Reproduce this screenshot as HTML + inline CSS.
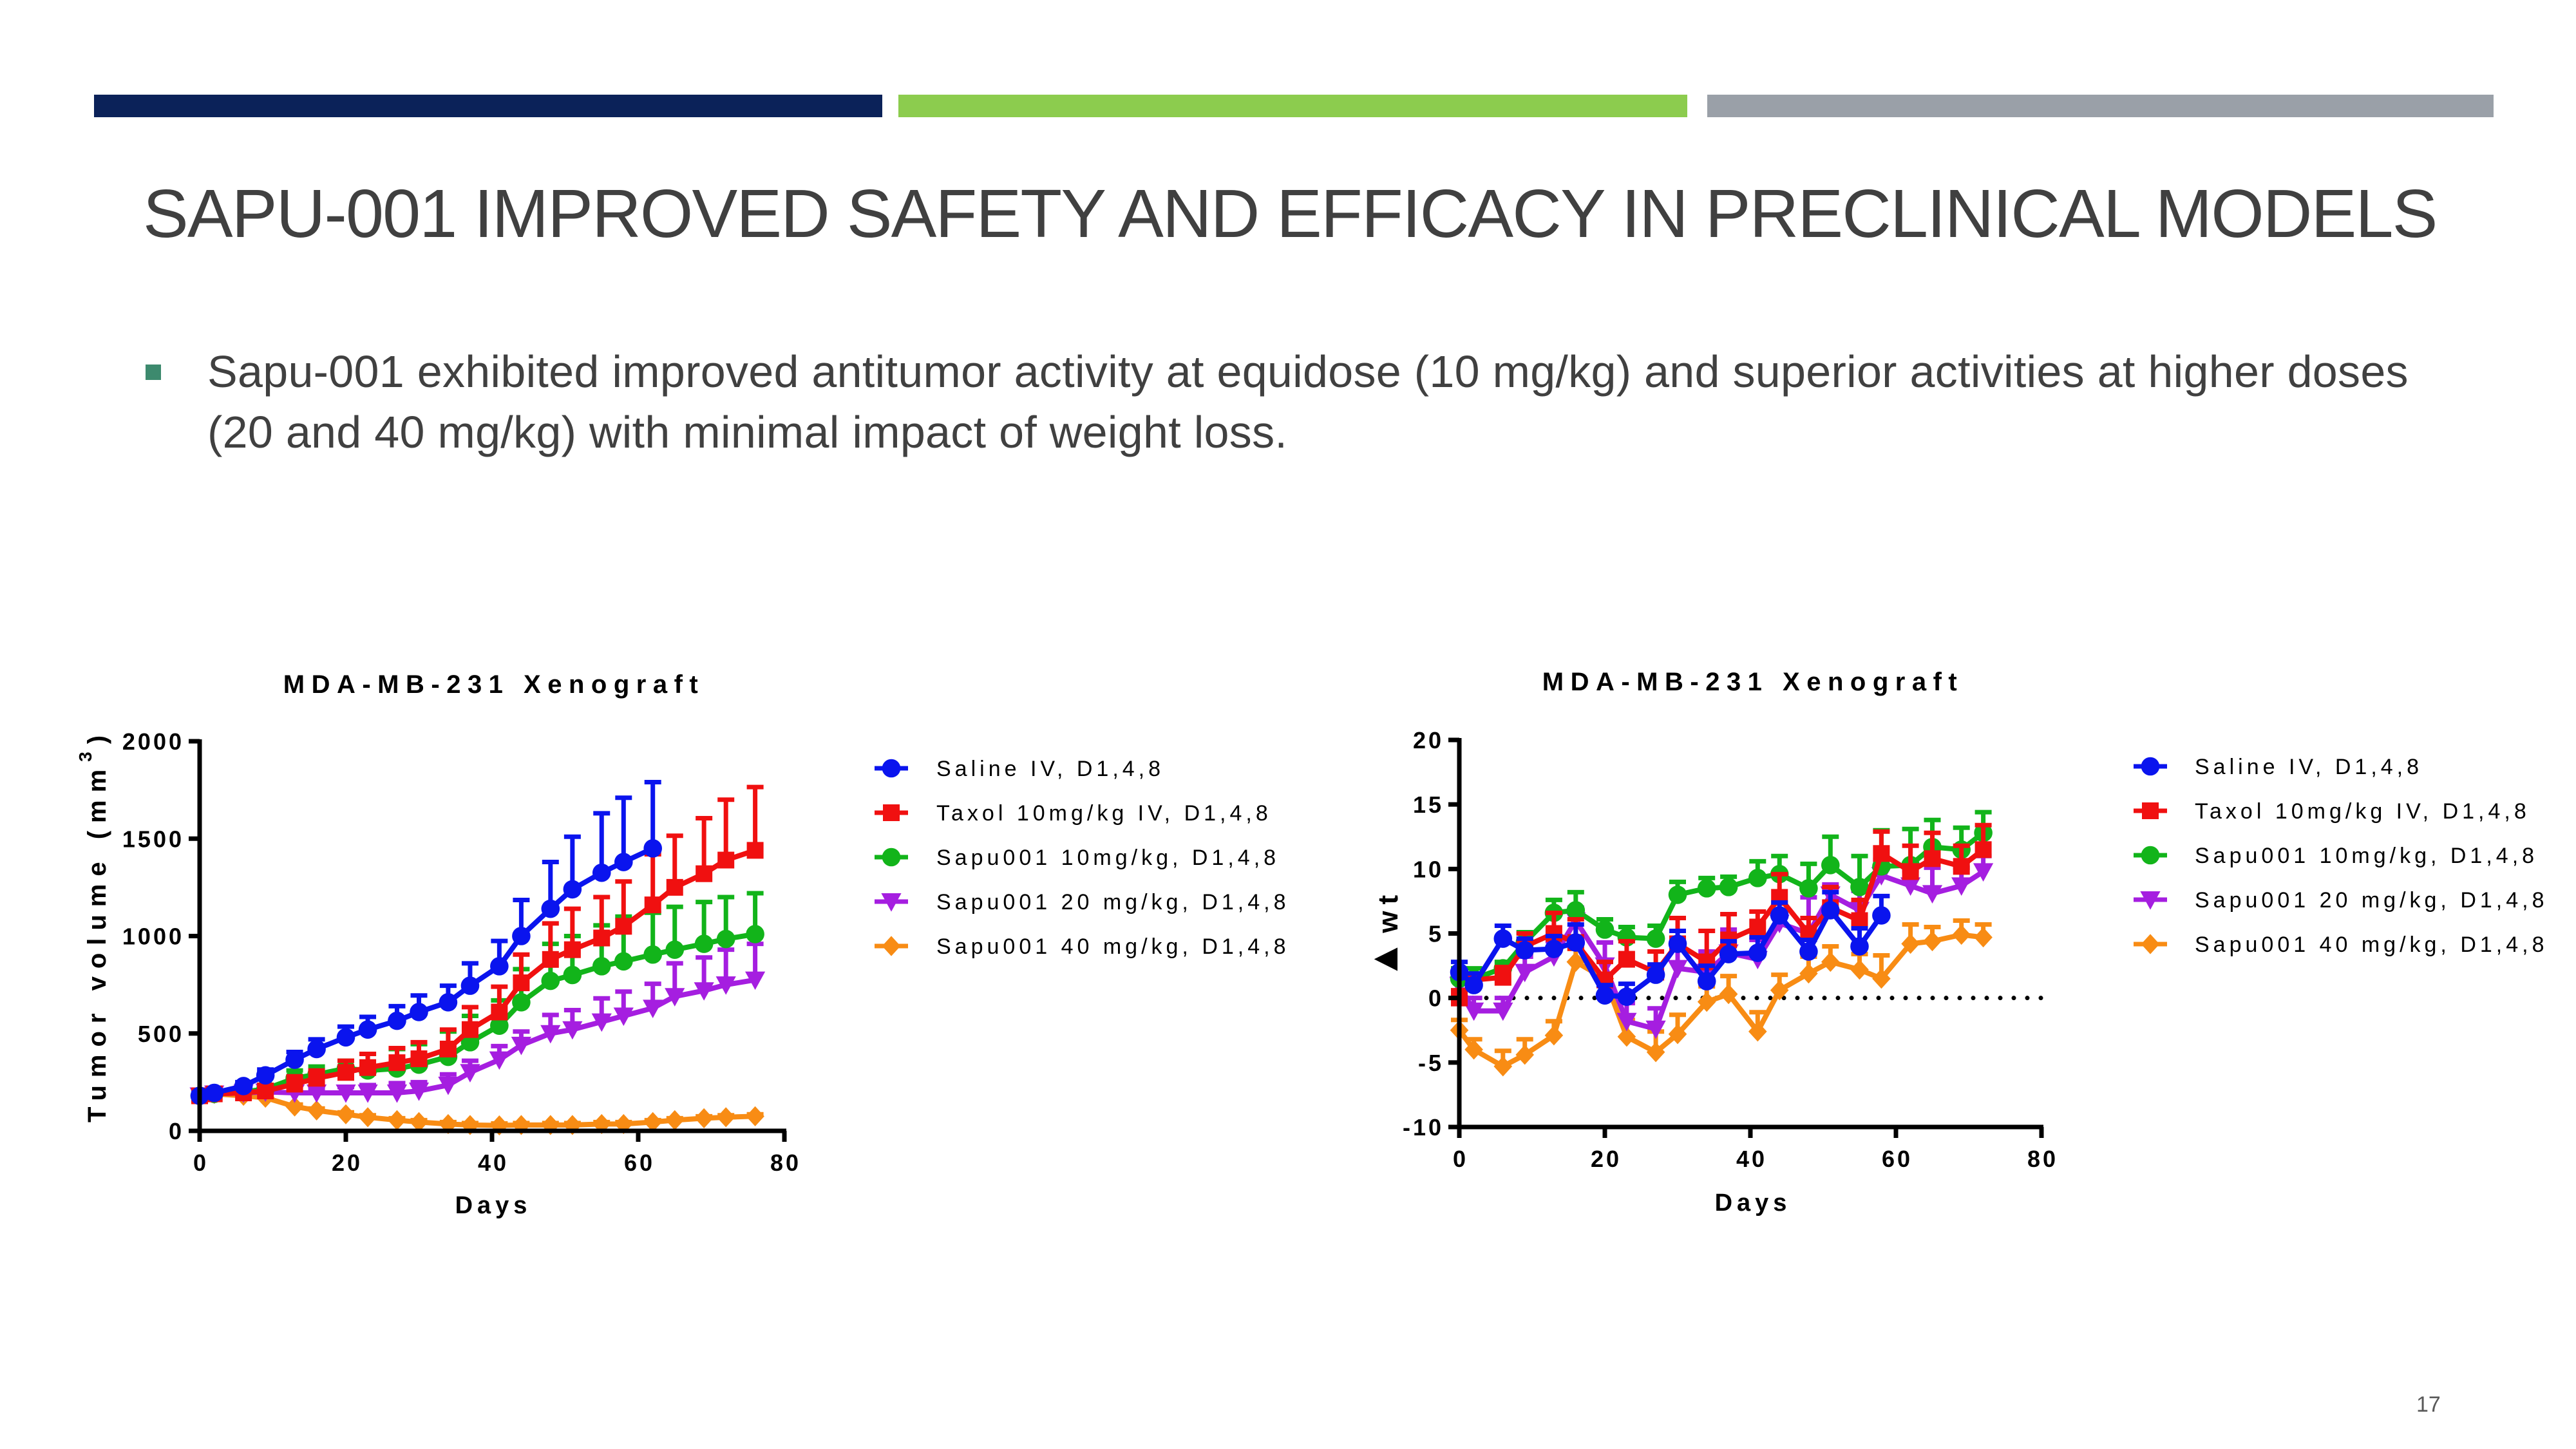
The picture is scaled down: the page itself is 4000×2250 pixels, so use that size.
<!DOCTYPE html>
<html><head><meta charset="utf-8">
<style>
html,body{margin:0;padding:0;background:#fff;}
body{width:4000px;height:2250px;overflow:hidden;position:relative;font-family:"Liberation Sans",sans-serif;}
.bar{position:absolute;top:147px;height:35px;}
#title{position:absolute;left:222px;top:272px;font-size:106px;color:#404040;white-space:nowrap;letter-spacing:-1.8px;}
#bullet{position:absolute;left:226px;top:566px;width:24px;height:24px;background:#3d8a6e;}
#btext{position:absolute;left:322px;top:530px;font-size:70px;line-height:94px;color:#404040;width:3600px;letter-spacing:0.3px;}
#pnum{position:absolute;left:3752px;top:2162px;font-size:34px;color:#595959;}
svg{position:absolute;left:0;top:0;}
</style></head><body>
<div class="bar" style="left:146px;width:1224px;background:#0b2259"></div>
<div class="bar" style="left:1395px;width:1225px;background:#8ccc4e"></div>
<div class="bar" style="left:2651px;width:1221px;background:#9aa0a8"></div>
<div id="title">SAPU-001 IMPROVED SAFETY AND EFFICACY IN PRECLINICAL MODELS</div>
<div id="bullet"></div>
<div id="btext">Sapu-001 exhibited improved antitumor activity at equidose (10 mg/kg) and superior activities at higher doses<br>(20 and 40 mg/kg) with minimal impact of weight loss.</div>
<div id="pnum">17</div>
<svg id="chart" width="4000" height="2250" xmlns="http://www.w3.org/2000/svg"></svg>
<script>
const names = ["Saline IV, D1,4,8","Taxol 10mg/kg IV, D1,4,8","Sapu001 10mg/kg, D1,4,8","Sapu001 20 mg/kg, D1,4,8","Sapu001 40 mg/kg, D1,4,8"];
const colors = ["#0a14ee","#f01010","#12b41a","#a51ee0","#f88c14"];
const shapes = ["circle","square","circle","tri","diamond"];
// Left chart: tumor volume
const daysL = [0,2,6,9,13,16,20,23,27,30,34,37,41,44,48,51,55,58,62,65,69,72,76];
const tvSaline = [180,195,230,285,365,420,480,520,565,610,660,745,845,1000,1140,1240,1325,1380,1450];
const tvTaxol = [180,190,195,205,240,270,300,325,350,370,420,520,610,760,880,930,990,1050,1160,1250,1320,1390,1440];
const tvSapu10 = [180,190,200,215,270,290,320,310,320,340,380,455,540,660,770,800,845,870,905,930,960,985,1010];
const tvSapu20 = [180,190,195,200,195,195,195,195,195,205,235,300,365,440,500,520,560,590,630,690,720,750,775];
const tvSapu40 = [180,190,180,170,125,105,85,70,55,45,35,30,28,30,30,30,35,35,45,55,65,70,75];
const errSaline = [15,15,20,30,40,50,55,65,75,85,85,115,130,185,240,270,305,330,340];
const errTaxol = [10,10,15,20,40,40,60,70,75,85,100,115,130,145,185,210,210,230,260,265,285,310,325];
const errSapu10 = [10,10,15,20,40,40,40,85,100,105,130,135,130,170,190,200,210,230,215,220,215,215,210];
const errSapu20 = [10,10,10,10,15,20,30,40,50,45,55,60,70,70,95,100,120,125,125,170,170,180,185];
const errSapu40 = [10,10,10,10,10,10,10,10,10,10,10,10,10,10,10,10,10,10,10,10,10,10,10];
const ticksLX = [0,20,40,60,80];
const ticksLY = [0,500,1000,1500,2000];
// Right chart: body weight change
const daysR = [0,2,6,9,13,16,20,23,27,30,34,37,41,44,48,51,55,58,62,65,69,72];
const wtSaline = [2.0,1.0,4.6,3.7,3.8,4.3,0.2,0.1,1.8,4.2,1.3,3.4,3.5,6.4,3.6,6.8,4.0,6.4];
const wtTaxol = [0,1.4,1.6,4.0,5.0,4.3,1.4,3.0,2.0,4.2,2.8,4.5,5.5,7.8,5.0,7.0,6.0,11.2,9.8,10.8,10.2,11.5];
const wtSapu10 = [1.5,1.5,2.3,4.3,6.6,6.8,5.3,4.7,4.6,8.0,8.5,8.6,9.3,9.6,8.5,10.3,8.6,10.2,10.3,11.7,11.5,12.8];
const wtSapu20 = [1.0,-1.0,-1.0,2.0,3.2,6.0,2.5,-1.8,-2.4,2.3,2.0,3.5,3.0,5.8,5.0,8.0,6.8,9.5,8.7,8.1,8.7,9.8];
const wtSapu40 = [-2.5,-4.0,-5.3,-4.4,-2.9,2.8,1.5,-3.0,-4.2,-2.8,-0.3,0.3,-2.6,0.6,1.9,2.8,2.2,1.5,4.2,4.4,4.9,4.7];
const ewSaline = [0.8,0.9,1.0,0.9,1.0,1.4,0.8,1.0,0.8,1.0,1.2,1.0,1.2,1.0,0.9,1.4,1.4,1.5];
const ewTaxol = [0.6,0.4,0.8,1.0,1.6,1.8,1.4,1.4,1.6,2.0,2.4,2.0,1.2,1.8,1.2,1.6,1.6,1.7,2.0,2.0,1.6,1.9];
const ewSapu10 = [0.8,0.8,0.5,0.8,1.0,1.4,0.8,0.8,1.0,1.0,0.8,0.8,1.3,1.4,1.9,2.2,2.4,2.8,2.8,2.1,1.7,1.6];
const ewSapu20 = [0.8,1.0,1.0,1.2,1.2,1.0,1.8,1.4,1.6,1.5,1.6,1.8,1.5,0.8,2.8,0.8,1.5,1.2,1.2,2.0,1.4,1.2];
const ewSapu40 = [0.8,0.8,1.2,1.2,1.1,1.0,1.3,1.3,1.6,1.5,1.2,1.4,1.5,1.2,1.3,1.2,1.2,1.8,1.5,1.1,1.1,1.0];
const ticksRX = [0,20,40,60,80];
const ticksRY = [-10,-5,0,5,10,15,20];

const NS = "http://www.w3.org/2000/svg";
const svg = document.getElementById("chart");
function mk(tag, attrs, parent){
  const e = document.createElementNS(NS, tag);
  for (const k in attrs) e.setAttribute(k, attrs[k]);
  (parent||svg).appendChild(e);
  return e;
}
function marker(g, shape, x, y, c, s){
  let e;
  if (shape==="circle") e = mk("circle",{cx:x,cy:y,r:s*0.55,fill:c},g);
  else if (shape==="square") e = mk("rect",{x:x-s*0.5,y:y-s*0.5,width:s,height:s,fill:c},g);
  else if (shape==="tri") e = mk("polygon",{points:`${x-s*0.6},${y-s*0.5} ${x+s*0.6},${y-s*0.5} ${x},${y+s*0.6}`,fill:c},g);
  else e = mk("polygon",{points:`${x},${y-s*0.6} ${x+s*0.55},${y} ${x},${y+s*0.6} ${x-s*0.55},${y}`,fill:c},g);
  return e;
}
function text(str, x, y, size, opts){
  const t = mk("text", Object.assign({x:x,y:y,"font-size":size,"font-family":"Liberation Sans, sans-serif",fill:"#000"}, opts||{}));
  t.textContent = str;
  return t;
}

function drawChart(cfg){
  const {x0,x1,y0,y1,xmin,xmax,ymin,ymax,days,series,errs,ticksX,ticksY,prefix} = cfg;
  const sx = d => x0 + (d - xmin) * (x1 - x0) / (xmax - xmin);
  const sy = v => y0 - (v - ymin) * (y0 - y1) / (ymax - ymin);
  const g = mk("g",{});
  
  
  if (cfg.zeroLine){
    const z = mk("line",{x1:x0,y1:sy(0),x2:cfg.zeroEnd,y2:sy(0),stroke:"#000","stroke-width":7,"stroke-dasharray":"0 21","stroke-linecap":"round"},g);
    
    
  }
  for (let si = series.length - 1; si >= 0; si--){
    const vals = series[si], er = errs[si], c = colors[si];
    const sg = mk("g",{},g);
    
    
    vals.forEach((v,i)=>{
      const x = sx(days[i]), y = sy(v), yt = sy(v + er[i]);
      mk("line",{x1:x,y1:y,x2:x,y2:yt,stroke:c,"stroke-width":7},sg);
      mk("line",{x1:x-13,y1:yt,x2:x+13,y2:yt,stroke:c,"stroke-width":7},sg);
    });
    const pts = vals.map((v,i)=>sx(days[i])+","+sy(v)).join(" ");
    const pl = mk("polyline",{points:pts,fill:"none",stroke:c,"stroke-width":8,"stroke-linejoin":"round"},sg);
    
    
    vals.forEach((v,i)=>{
      const m = marker(sg, shapes[si], sx(days[i]), sy(v), c, 26);
      
      
    });
  }
  const ax = mk("g",{});
  
  
  mk("line",{x1:x0,y1:y1-3,x2:x0,y2:y0+3,stroke:"#000","stroke-width":7},ax);
  mk("line",{x1:x0-3,y1:y0,x2:x1+3,y2:y0,stroke:"#000","stroke-width":7},ax);
  ticksX.forEach(t=>{
    mk("line",{x1:sx(t),y1:y0,x2:sx(t),y2:y0+17,stroke:"#000","stroke-width":7},ax);
    const tl = text(String(t), sx(t)+2, y0+62, 36, {"font-weight":"bold","text-anchor":"middle","letter-spacing":"4"});
    
    
  });
  ticksY.forEach(t=>{
    mk("line",{x1:x0-17,y1:sy(t),x2:x0,y2:sy(t),stroke:"#000","stroke-width":7},ax);
    const tl = text(String(t), x0-24, sy(t)+13, 36, {"font-weight":"bold","text-anchor":"end","letter-spacing":"4"});
    
    
  });
}

drawChart({x0:310,x1:1218,y0:1756,y1:1151,xmin:0,xmax:80,ymin:0,ymax:2000,days:daysL,
  series:[tvSaline,tvTaxol,tvSapu10,tvSapu20,tvSapu40],errs:[errSaline,errTaxol,errSapu10,errSapu20,errSapu40],
  ticksX:ticksLX,ticksY:ticksLY,prefix:"tumor-chart"});
drawChart({x0:2266,x1:3170,y0:1750,y1:1149,xmin:0,xmax:80,ymin:-10,ymax:20,days:daysR,
  series:[wtSaline,wtTaxol,wtSapu10,wtSapu20,wtSapu40],errs:[ewSaline,ewTaxol,ewSapu10,ewSapu20,ewSapu40],
  ticksX:ticksRX,ticksY:ticksRY,prefix:"weight-chart",zeroLine:true,zeroEnd:3180});

// titles and axis labels
let t;
t = text("MDA-MB-231 Xenograft", 767, 1076, 40, {"font-weight":"bold","text-anchor":"middle","letter-spacing":"10.5"});
 
t = text("MDA-MB-231 Xenograft", 2722, 1072, 40, {"font-weight":"bold","text-anchor":"middle","letter-spacing":"10.5"});
 
t = text("Days", 766, 1884, 38, {"font-weight":"bold","text-anchor":"middle","letter-spacing":"7"});
 
t = text("Days", 2722, 1880, 38, {"font-weight":"bold","text-anchor":"middle","letter-spacing":"7"});
 
t = mk("text",{x:0,y:0,"font-size":40,"font-weight":"bold","font-family":"Liberation Sans, sans-serif","letter-spacing":"12",fill:"#000","transform":"translate(164,1743) rotate(-90)"});
 
t.appendChild(document.createTextNode("Tumor volume (mm"));
const sup = mk("tspan",{dy:-22,"font-size":28},t); sup.textContent = "3";
const cp = mk("tspan",{dy:22},t); cp.textContent = ")";
t = mk("text",{x:0,y:0,"font-size":44,"font-weight":"bold","font-family":"Liberation Sans, sans-serif","letter-spacing":"10",fill:"#000","text-anchor":"middle","transform":"translate(2170,1450) rotate(-90)"});
 
const tri = mk("tspan",{"font-size":62},t); tri.textContent = "\u25B2";
const wt = mk("tspan",{},t); wt.textContent = "wt";

// legends
function legend(lx, tx, ys, prefix){
  names.forEach((n,i)=>{
    const g = mk("g",{});
    
    
    mk("line",{x1:lx,y1:ys[i],x2:lx+52,y2:ys[i],stroke:colors[i],"stroke-width":7},g);
    marker(g, shapes[i], lx+26, ys[i], colors[i], 26);
    const tt = mk("text",{x:tx,y:ys[i]+12,"font-size":34,"font-family":"Liberation Sans, sans-serif","letter-spacing":"6",fill:"#000"},g);
    tt.textContent = n;
  });
}
legend(1358, 1454, [1193,1262,1331,1400,1469], "tumor");
legend(3313, 3408, [1190,1259,1328,1397,1466], "weight");
</script>
</body></html>
